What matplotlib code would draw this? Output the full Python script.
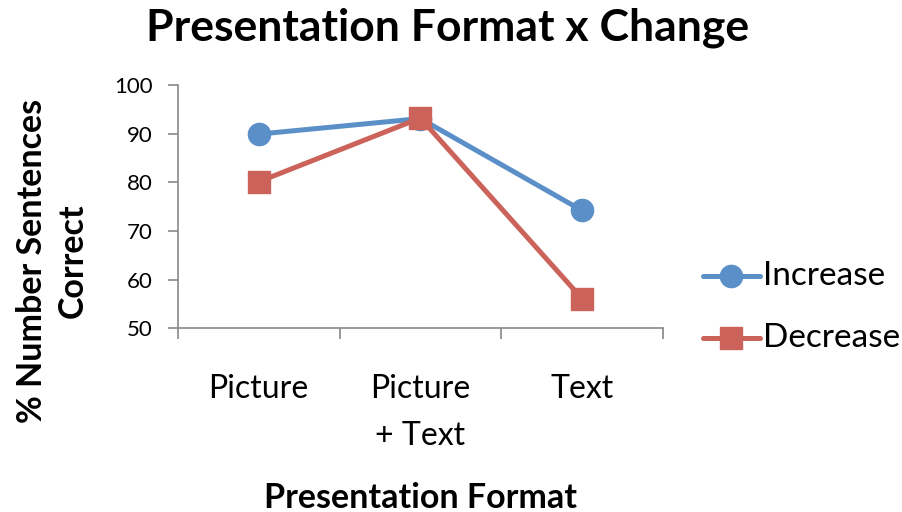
import matplotlib
matplotlib.use("Agg")
import matplotlib.pyplot as plt
from matplotlib.lines import Line2D

categories = ["Picture", "Picture\n+ Text", "Text"]
increase = [89.9, 93.1, 74.2]
decrease = [80.1, 93.2, 56.1]
series_names = ["Increase", "Decrease"]

plt.rcParams['font.family'] = ['Lato', 'DejaVu Sans']

blue = "#5B8FC8"
red = "#CB635B"
axis_gray = "#888888"

fig = plt.figure(figsize=(9.03, 5.12), dpi=100)
ax = fig.add_axes([0.197, 0.359, 0.537, 0.475])

x = list(range(len(categories)))
ax.plot(x, increase, color=blue, lw=3.6, marker="o", ms=16, solid_capstyle="round")
ax.plot(x, decrease, color=red, lw=3.6, marker="s", ms=16, solid_capstyle="round")

ax.set_xlim(-0.5, len(categories) - 0.5)
ax.set_ylim(50, 100)
ax.set_yticks(range(50, 101, 10))
ax.set_xticks([i - 0.5 for i in range(len(categories) + 1)])
ax.set_xticklabels([])
ax.set_xticks(x, minor=True)
ax.set_xticklabels(categories, minor=True, fontsize=23, linespacing=1.72)
ax.tick_params(axis="x", which="minor", length=0, pad=33)
ax.tick_params(axis="x", which="major", length=8, color=axis_gray, width=1.2, direction="out")
ax.tick_params(axis="y", length=7, color=axis_gray, width=1.2, labelsize=16, pad=11)

for side in ["top", "right"]:
    ax.spines[side].set_visible(False)
for side in ["left", "bottom"]:
    ax.spines[side].set_color(axis_gray)
    ax.spines[side].set_linewidth(1.2)

fig.text(0.496, 0.945, "Presentation Format x Change", ha="center", va="center",
         fontsize=32, fontweight="bold")
fig.text(0.466, 0.028, "Presentation Format", ha="center", va="center",
         fontsize=24.5, fontweight="bold")
fig.text(0.058, 0.49, "% Number Sentences\nCorrect", ha="center", va="center",
         rotation=90, fontsize=24.5, fontweight="bold", linespacing=1.3)

# Legend entries drawn in figure coordinates
legend_styles = [(blue, "o"), (red, "s")]
legend_rows = [1 - 276 / 512, 1 - 338 / 512]
x0, x1 = 703 / 903, 760 / 903
for (color, marker), name, yy in zip(legend_styles, series_names, legend_rows):
    fig.add_artist(Line2D([x0, x1], [yy, yy], color=color, lw=3.6,
                          transform=fig.transFigure, solid_capstyle="round"))
    fig.add_artist(Line2D([(x0 + x1) / 2], [yy], color=color, marker=marker, ms=16,
                          transform=fig.transFigure))
    fig.text(763 / 903, yy, name, ha="left", va="center", fontsize=24)

fig.savefig("out.png", dpi=100)
